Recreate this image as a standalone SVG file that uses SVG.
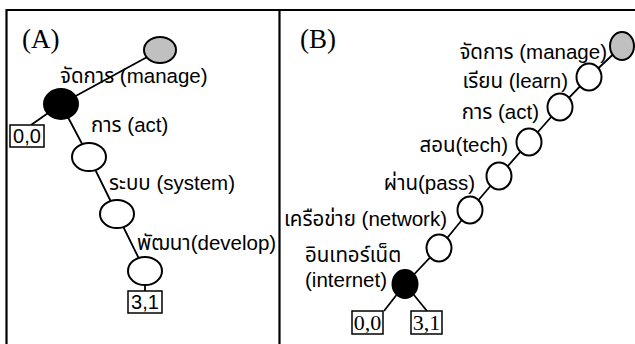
<svg xmlns="http://www.w3.org/2000/svg" width="635" height="344" viewBox="0 0 635 344">
<style>
.frame{stroke:#000;stroke-width:2.2;fill:none}
.ln{stroke:#000;stroke-width:1.8;fill:none}
.nd{stroke:#000;stroke-width:2;fill:#fff}
.blk{fill:#000}
.gry{fill:#c0c0c0}
.bx{stroke:#000;stroke-width:1.5;fill:#fff}
.lbl{font-family:"Liberation Sans","Noto Sans Thai","Tahoma","DejaVu Sans",sans-serif;font-size:20.5px;fill:#000}
.tag{font-family:"Liberation Serif","Times New Roman",serif;font-size:27px;fill:#000}
.ns{font-family:"Liberation Sans",Arial,sans-serif;font-size:20px;fill:#000;text-anchor:middle}
.nr{font-family:"Liberation Serif","Times New Roman",serif;font-size:22px;fill:#000;text-anchor:middle}
.end{text-anchor:end}
</style>
<g id="frame">
<path class="frame" d="M6.5,344 V10 H635"/>
<path class="frame" d="M279.5,10 V344"/>
</g>
<g id="connectors">
<path class="ln" d="M160,50 L61,104"/>
<path class="ln" d="M61,104 L31,125"/>
<path class="ln" d="M61,104 L89,157 L117,214 L145,271 L145,291"/>
<path class="ln" d="M622,46 L589,77 L560,107 L529,142 L499,176 L470,210 L439,248 L405,284"/>
<path class="ln" d="M405,284 L384,311"/>
<path class="ln" d="M405,284 L427,311"/>
</g>
<g id="panelA">
<text class="tag" x="22" y="48">(A)</text>
<g id="a-root"><ellipse class="nd gry" cx="160" cy="50" rx="16" ry="13"/></g>
<g id="a-manage"><ellipse class="nd blk" cx="61" cy="104" rx="17" ry="15"/><text class="lbl" x="60" y="83">จัดการ (manage)</text></g>
<g id="a-box00"><rect class="bx" x="10" y="125" width="34" height="22"/><text class="ns" x="27" y="143">0,0</text></g>
<g id="a-act"><ellipse class="nd" cx="89" cy="157" rx="17" ry="14"/><text class="lbl" x="91" y="132">การ (act)</text></g>
<g id="a-system"><ellipse class="nd" cx="117" cy="214" rx="17" ry="14"/><text class="lbl" x="109" y="190">ระบบ (system)</text></g>
<g id="a-develop"><ellipse class="nd" cx="145" cy="271" rx="17" ry="14"/><text class="lbl" x="137" y="250">พัฒนา(develop)</text></g>
<g id="a-box31"><rect class="bx" x="128" y="291" width="34" height="22"/><text class="ns" x="145" y="309">3,1</text></g>
</g>
<g id="panelB">
<text class="tag" x="300" y="48">(B)</text>
<g id="b-root"><ellipse class="nd gry" cx="622" cy="46" rx="12" ry="14"/></g>
<g id="b-manage"><ellipse class="nd" cx="589" cy="77" rx="12.5" ry="13.5"/><text class="lbl end" x="607" y="59">จัดการ (manage)</text></g>
<g id="b-learn"><ellipse class="nd" cx="560" cy="107" rx="12.5" ry="13.5"/><text class="lbl end" x="568" y="88">เรียน (learn)</text></g>
<g id="b-act"><ellipse class="nd" cx="529" cy="142" rx="12.5" ry="13.5"/><text class="lbl end" x="539" y="119">การ (act)</text></g>
<g id="b-tech"><ellipse class="nd" cx="499" cy="176" rx="12.5" ry="13.5"/><text class="lbl end" x="508" y="152">สอน(tech)</text></g>
<g id="b-pass"><ellipse class="nd" cx="470" cy="210" rx="12.5" ry="13.5"/><text class="lbl end" x="475" y="190">ผ่าน(pass)</text></g>
<g id="b-network"><ellipse class="nd" cx="439" cy="248" rx="12.5" ry="13.5"/><text class="lbl end" x="447" y="226">เครือข่าย (network)</text></g>
<g id="b-internet"><ellipse class="nd blk" cx="405" cy="284" rx="12.5" ry="14"/><text class="lbl" x="305" y="262">อินเทอร์เน็ต</text><text class="lbl" x="305" y="287">(internet)</text></g>
<g id="b-box00"><rect class="bx" x="352" y="311" width="31" height="23"/><text class="nr" x="367.5" y="330">0,0</text></g>
<g id="b-box31"><rect class="bx" x="411" y="311" width="31" height="23"/><text class="nr" x="426.5" y="330">3,1</text></g>
</g>
</svg>
